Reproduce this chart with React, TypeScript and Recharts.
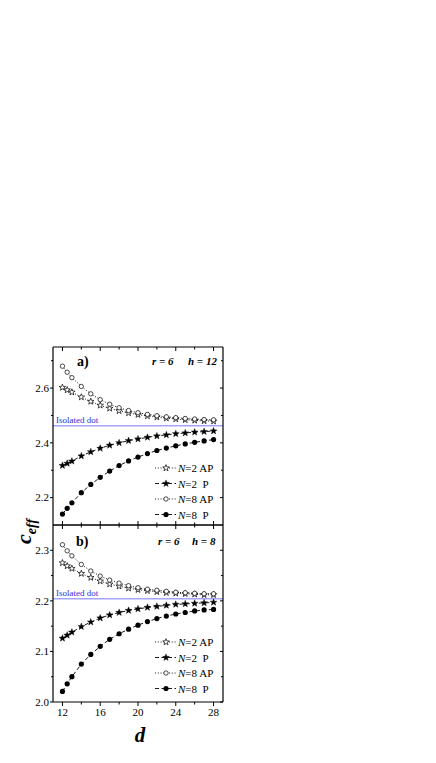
import React from "react";
import { LineChart, Line, XAxis, YAxis, ReferenceLine } from "recharts";

// separation d, with the extra half step at the start
const D_VALUES = [12, 12.5, 13, 14, 15, 16, 17, 18, 19, 20, 21, 22, 23, 24, 25, 26, 27, 28];

// panel a) r = 6, h = 12
const A_N2_AP = [2.602, 2.593, 2.585, 2.567, 2.551, 2.537, 2.526, 2.517, 2.509, 2.503, 2.498, 2.494, 2.49, 2.487, 2.484, 2.482, 2.48, 2.479];
const A_N2_P = [2.317, 2.325, 2.333, 2.352, 2.367, 2.38, 2.391, 2.4, 2.408, 2.414, 2.42, 2.425, 2.429, 2.433, 2.436, 2.439, 2.441, 2.443];
const A_N8_AP = [2.68, 2.658, 2.638, 2.606, 2.579, 2.558, 2.541, 2.528, 2.518, 2.51, 2.504, 2.499, 2.495, 2.492, 2.489, 2.487, 2.485, 2.484];
const A_N8_P = [2.14, 2.161, 2.181, 2.218, 2.248, 2.274, 2.297, 2.317, 2.334, 2.348, 2.361, 2.372, 2.381, 2.389, 2.396, 2.402, 2.407, 2.412];
const A_ISOLATED = 2.462;

// panel b) r = 6, h = 8
const B_N2_AP = [2.275, 2.269, 2.264, 2.254, 2.246, 2.239, 2.233, 2.229, 2.225, 2.222, 2.22, 2.218, 2.216, 2.215, 2.214, 2.213, 2.212, 2.212];
const B_N2_P = [2.126, 2.132, 2.138, 2.149, 2.158, 2.166, 2.172, 2.177, 2.181, 2.184, 2.187, 2.189, 2.191, 2.193, 2.194, 2.195, 2.196, 2.197];
const B_N8_AP = [2.311, 2.299, 2.289, 2.272, 2.259, 2.249, 2.241, 2.235, 2.23, 2.226, 2.223, 2.221, 2.219, 2.217, 2.216, 2.215, 2.214, 2.214];
const B_N8_P = [2.021, 2.036, 2.05, 2.075, 2.094, 2.11, 2.124, 2.135, 2.144, 2.152, 2.159, 2.165, 2.17, 2.174, 2.177, 2.18, 2.182, 2.183];
const B_ISOLATED = 2.204;

const X_DOMAIN: [number, number] = [11, 29];
const X_MAJOR = [12, 16, 20, 24, 28];
const X_MINOR = [14, 18, 22, 26];
const A_DOMAIN: [number, number] = [2.1, 2.75];
const A_Y_MAJOR = [2.2, 2.4, 2.6];
const A_Y_MINOR = [2.3, 2.5, 2.7];
const B_DOMAIN: [number, number] = [2.0, 2.35];
const B_Y_MAJOR = [2.0, 2.1, 2.2, 2.3];
const B_Y_MINOR = [2.05, 2.15, 2.25];

const SERIES = [
  { key: "n2ap", n: "2", kind: "AP", marker: "starOpen", dash: "1 1.8" },
  { key: "n2p", n: "2", kind: "P", marker: "starFilled", dash: "4 2.5" },
  { key: "n8ap", n: "8", kind: "AP", marker: "circleOpen", dash: "1 1.8" },
  { key: "n8p", n: "8", kind: "P", marker: "circleFilled", dash: "4 2.5" },
];

const SERIF = "'Liberation Serif', 'DejaVu Serif', serif";
const ISO_LINE = "#a4a4fb";
const ISO_TEXT = "#2c2cdc";

const rowsA = D_VALUES.map((d, i) => ({ d, n2ap: A_N2_AP[i], n2p: A_N2_P[i], n8ap: A_N8_AP[i], n8p: A_N8_P[i] }));
const rowsB = D_VALUES.map((d, i) => ({ d, n2ap: B_N2_AP[i], n2p: B_N2_P[i], n8ap: B_N8_AP[i], n8p: B_N8_P[i] }));

function starPath(cx: number, cy: number, R: number, r: number) {
  let p = "";
  for (let k = 0; k < 10; k++) {
    const rad = k % 2 === 0 ? R : r;
    const a = -Math.PI / 2 + (k * Math.PI) / 5;
    p += `${k === 0 ? "M" : "L"}${(cx + rad * Math.cos(a)).toFixed(2)},${(cy + rad * Math.sin(a)).toFixed(2)}`;
  }
  return p + "Z";
}

function Marker({ kind, cx, cy }: { kind: string; cx: number; cy: number }) {
  if (kind === "starOpen") return <path d={starPath(cx, cy, 3.4, 1.4)} fill="#fff" stroke="#000" strokeWidth={0.7} />;
  if (kind === "starFilled") return <path d={starPath(cx, cy, 3.6, 1.5)} fill="#000" stroke="#000" strokeWidth={0.4} />;
  if (kind === "circleOpen") return <circle cx={cx} cy={cy} r={2.2} fill="#fff" stroke="#000" strokeWidth={0.7} />;
  return <circle cx={cx} cy={cy} r={2.6} fill="#000" />;
}

const renderDot = (kind: string) => (props: any) => {
  const { cx, cy, index } = props;
  if (cx == null || cy == null) return <g key={`${kind}-${index}`} />;
  return (
    <g key={`${kind}-${index}`}>
      <Marker kind={kind} cx={cx} cy={cy} />
    </g>
  );
};

// tick lines drawn by hand so majors/minors differ and inner/outer sides can be chosen
type Side = "left" | "right" | "top" | "bottom";
const makeTick =
  (side: Side, majors: number[], outward: boolean, withLabel: boolean, majorLen: number, minorLen: number) =>
  (props: any) => {
    const { x, y, payload, index } = props;
    const v = payload.value as number;
    const isMajor = majors.some((m) => Math.abs(m - v) < 1e-6);
    const len = isMajor ? majorLen : minorLen;
    const out = outward ? 1 : -1;
    let x2 = x;
    let y2 = y;
    if (side === "left") x2 = x - out * len;
    if (side === "right") x2 = x + out * len;
    if (side === "top") y2 = y - out * len;
    if (side === "bottom") y2 = y + out * len;
    let label = null;
    if (withLabel && isMajor) {
      if (side === "left")
        label = (
          <text x={x - 4} y={y} dy="0.34em" textAnchor="end" fontSize={11} fontFamily={SERIF} fill="#000">
            {v.toFixed(1)}
          </text>
        );
      if (side === "bottom")
        label = (
          <text x={x} y={y + 6} dy="0.72em" textAnchor="middle" fontSize={11} fontFamily={SERIF} fill="#000">
            {v}
          </text>
        );
    }
    return (
      <g key={`${side}-${index}`}>
        <line x1={x} y1={y} x2={x2} y2={y2} stroke="#000" strokeWidth={1} />
        {label}
      </g>
    );
  };

function Panel({ rows, domain, yTicks, yMajor, isolated, height, margin, showX }: any) {
  const xa = { type: "number" as const, dataKey: "d", domain: X_DOMAIN, allowDataOverflow: true, interval: 0 as const, ticks: [...X_MAJOR, ...X_MINOR] };
  const ya = { type: "number" as const, domain, allowDataOverflow: true, interval: 0 as const, ticks: yTicks };
  const axisLine = { stroke: "#000", strokeWidth: 1.2 };
  return (
    <LineChart width={260} height={height} data={rows} margin={margin}>
      <XAxis xAxisId="top" orientation="top" {...xa} height={1} tickLine={false} tickSize={0} tickMargin={0} axisLine={axisLine} tick={makeTick("top", X_MAJOR, false, false, 4, 2.5)} />
      <XAxis
        xAxisId="x"
        orientation="bottom"
        {...xa}
        height={showX ? 30 : 1}
        tickLine={false}
        tickSize={0}
        tickMargin={0}
        axisLine={axisLine}
        tick={makeTick("bottom", X_MAJOR, showX, showX, 4, 2.5)}
      />
      <YAxis yAxisId="y" orientation="left" {...ya} width={30} tickLine={false} tickSize={0} tickMargin={0} axisLine={axisLine} tick={makeTick("left", yMajor, true, true, 3, 2)} />
      <YAxis yAxisId="right" orientation="right" {...ya} width={1} tickLine={false} tickSize={0} tickMargin={0} axisLine={axisLine} tick={makeTick("right", yMajor, false, false, 3, 2)} />
      <ReferenceLine
        xAxisId="x"
        yAxisId="y"
        y={isolated}
        stroke={ISO_LINE}
        strokeWidth={1.5}
        label={{ value: "Isolated dot", position: "insideBottomLeft", offset: 3, fill: ISO_TEXT, fontSize: 9, fontFamily: SERIF }}
      />
      {SERIES.map((s) => (
        <Line
          key={s.key}
          xAxisId="x"
          yAxisId="y"
          dataKey={s.key}
          stroke="#000"
          strokeWidth={0.9}
          strokeDasharray={s.dash}
          dot={renderDot(s.marker)}
          activeDot={false}
          isAnimationActive={false}
        />
      ))}
    </LineChart>
  );
}

function LegendBlock({ rowsY }: { rowsY: number[] }) {
  return (
    <g>
      {SERIES.map((s, i) => (
        <g key={s.key}>
          <line x1={155} x2={176} y1={rowsY[i]} y2={rowsY[i]} stroke="#000" strokeWidth={0.9} strokeDasharray={s.dash} />
          <Marker kind={s.marker} cx={166} cy={rowsY[i]} />
          <text x={178} y={rowsY[i] + 4} fontSize={11} fontFamily={SERIF}>
            <tspan fontStyle="italic">N</tspan>={s.n} {s.kind === "P" ? "\u00a0P" : s.kind}
          </text>
        </g>
      ))}
    </g>
  );
}

export default function App() {
  return (
    <div style={{ position: "absolute", left: 0, top: 0, width: 436, height: 763 }}>
      <div style={{ position: "absolute", left: 0, top: 0 }}>
        <Panel
          rows={rowsA}
          domain={A_DOMAIN}
          yTicks={[...A_Y_MAJOR, ...A_Y_MINOR]}
          yMajor={A_Y_MAJOR}
          isolated={A_ISOLATED}
          height={540}
          margin={{ top: 346, right: 36, bottom: 14, left: 23 }}
          showX={false}
        />
      </div>
      <div style={{ position: "absolute", left: 0, top: 500 }}>
        <Panel
          rows={rowsB}
          domain={B_DOMAIN}
          yTicks={[...B_Y_MAJOR, ...B_Y_MINOR]}
          yMajor={B_Y_MAJOR}
          isolated={B_ISOLATED}
          height={263}
          margin={{ top: 24, right: 36, bottom: 31, left: 23 }}
          showX={true}
        />
      </div>
      <svg width={436} height={763} style={{ position: "absolute", left: 0, top: 0, pointerEvents: "none" }}>
        <g fontFamily={SERIF} fill="#000">
          <text x={77} y={366} fontSize={14} fontWeight="bold">a)</text>
          <text x={152} y={365} fontSize={11} fontWeight="bold" fontStyle="italic">r = 6</text>
          <text x={188} y={365} fontSize={11} fontWeight="bold" fontStyle="italic">h = 12</text>
          <text x={76} y={546} fontSize={14} fontWeight="bold">b)</text>
          <text x={158} y={545} fontSize={11} fontWeight="bold" fontStyle="italic">r = 6</text>
          <text x={192} y={545} fontSize={11} fontWeight="bold" fontStyle="italic">h = 8</text>
          <text x={140} y={742} fontSize={21} fontWeight="bold" fontStyle="italic" textAnchor="middle">d</text>
          <text transform="translate(31,544) rotate(-90)" fontSize={22} fontWeight="bold" fontStyle="italic">
            c<tspan fontSize={14} dy={5}>eff</tspan>
          </text>
        </g>
        <LegendBlock rowsY={[468, 483.5, 499, 514.5]} />
        <LegendBlock rowsY={[642, 657.5, 673, 688.5]} />
      </svg>
    </div>
  );
}
